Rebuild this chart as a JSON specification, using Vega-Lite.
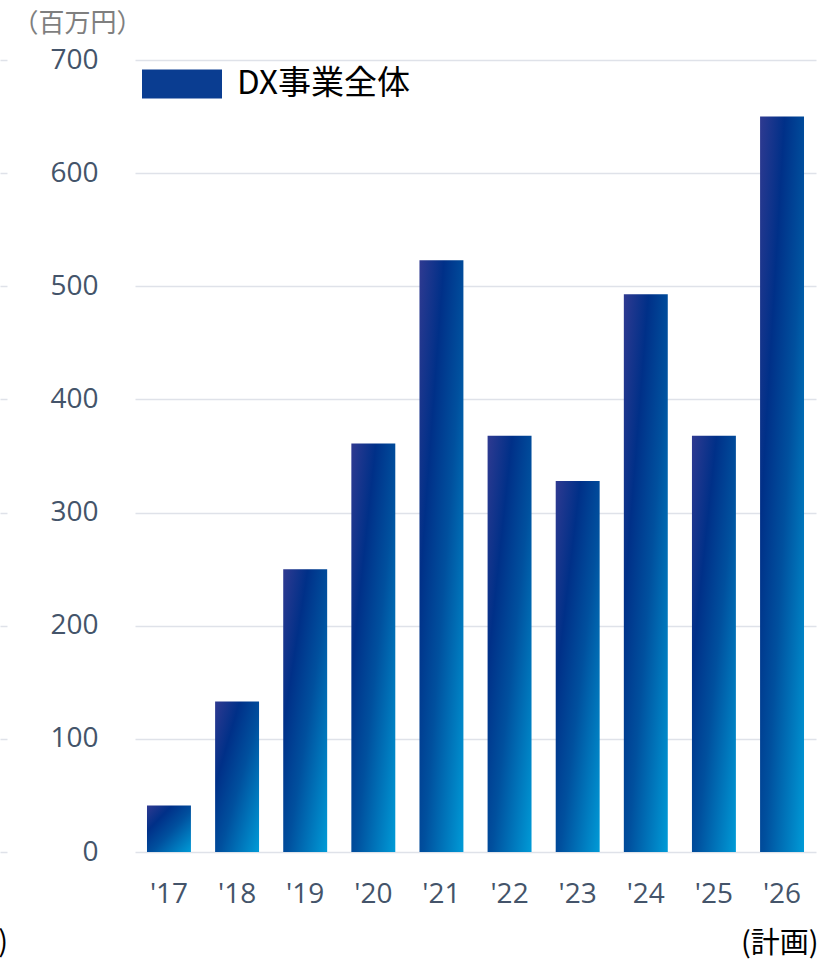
{
  "$schema": "https://vega.github.io/schema/vega-lite/v6.json",
  "width": 681,
  "height": 792,
  "autosize": {"type": "none"},
  "padding": {"left": 135, "top": 60, "right": 5, "bottom": 107},
  "background": "white",
  "config": {"view": {"stroke": null}, "font": "Open Sans"},
  "title": {
    "text": "(年度)",
    "orient": "bottom",
    "anchor": "start",
    "frame": "group",
    "align": "right",
    "baseline": "top",
    "dx": -127,
    "dy": -29,
    "offset": 0,
    "font": "Noto Sans CJK JP",
    "fontSize": 29,
    "fontWeight": "normal",
    "color": "#000000"
  },
  "data": {
    "values": [
      {"year": "'17", "value": 41, "series": "DX事業全体"},
      {"year": "'18", "value": 133, "series": "DX事業全体"},
      {"year": "'19", "value": 250, "series": "DX事業全体"},
      {"year": "'20", "value": 361, "series": "DX事業全体"},
      {"year": "'21", "value": 523, "series": "DX事業全体"},
      {"year": "'22", "value": 368, "series": "DX事業全体"},
      {"year": "'23", "value": 328, "series": "DX事業全体"},
      {"year": "'24", "value": 493, "series": "DX事業全体"},
      {"year": "'25", "value": 368, "series": "DX事業全体"},
      {"year": "'26", "value": 650, "series": "DX事業全体"}
    ]
  },
  "encoding": {
    "x": {
      "field": "year",
      "type": "ordinal",
      "sort": null,
      "scale": {"paddingInner": 0.355, "paddingOuter": 0.176},
      "axis": {
        "title": "(計画)",
        "titleFont": "Noto Sans CJK JP",
        "titleFontSize": 29,
        "titleFontWeight": "normal",
        "titleColor": "#000000",
        "titleAlign": "right",
        "titleBaseline": "top",
        "titleX": 683,
        "titleY": 77,
        "labelAngle": 0,
        "labelFont": "Open Sans",
        "labelFontSize": 28,
        "labelColor": "#44546a",
        "labelPadding": 28,
        "domain": false,
        "ticks": false
      }
    },
    "y": {
      "field": "value",
      "type": "quantitative",
      "scale": {"domain": [0, 700], "nice": false},
      "axis": {
        "values": [0, 100, 200, 300, 400, 500, 600, 700],
        "title": "（百万円）",
        "titleFont": "Noto Sans CJK JP",
        "titleFontSize": 26,
        "titleFontWeight": "normal",
        "titleColor": "#7f7f7f",
        "titleAngle": 0,
        "titleAlign": "left",
        "titleBaseline": "top",
        "titleX": 5,
        "titleY": -50,
        "offset": 128,
        "domain": false,
        "ticks": true,
        "tickSize": 7,
        "tickColor": "#dfe2e9",
        "tickWidth": 1.5,
        "grid": true,
        "gridColor": "#dfe2e9",
        "gridWidth": 1.5,
        "labelPadding": -98,
        "labelAlign": "right",
        "labelBaseline": "middle",
        "labelFont": "Open Sans",
        "labelFontSize": 28,
        "labelColor": "#44546a"
      }
    }
  },
  "layer": [
    {
      "mark": {
        "type": "bar",
        "fill": {
          "gradient": "linear",
          "x1": 0, "y1": 0, "x2": 1, "y2": 1,
          "stops": [
            {"offset": 0, "color": "#2f3a91"},
            {"offset": 0.28, "color": "#003088"},
            {"offset": 0.55, "color": "#00509e"},
            {"offset": 1, "color": "#009bd7"}
          ]
        }
      }
    },
    {
      "mark": {"type": "bar", "opacity": 0},
      "encoding": {
        "fill": {
          "field": "series",
          "type": "nominal",
          "scale": {"range": ["#0a3d91"]},
          "legend": {
            "orient": "none",
            "legendX": 7,
            "legendY": -16,
            "title": null,
            "symbolType": "M-1,-0.3625H1V0.3625H-1Z",
            "symbolSize": 6400,
            "symbolStrokeWidth": 0,
            "symbolOpacity": 1,
            "labelFont": "Noto Sans CJK JP",
            "labelFontSize": 33,
            "labelColor": "#000000",
            "labelOffset": 15,
            "labelLimit": 400,
            "encode": {
              "symbols": {
                "update": {
                  "opacity": {"value": 1},
                  "fill": {"value": {
                    "gradient": "linear",
                    "x1": 0, "y1": 0, "x2": 1, "y2": 1,
                    "stops": [
                      {"offset": 0, "color": "#1d3a92"},
                      {"offset": 0.3, "color": "#003088"},
                      {"offset": 0.6, "color": "#00509e"},
                      {"offset": 1, "color": "#009bd7"}
                    ]
                  }}
                }
              }
            }
          }
        }
      }
    }
  ]
}
